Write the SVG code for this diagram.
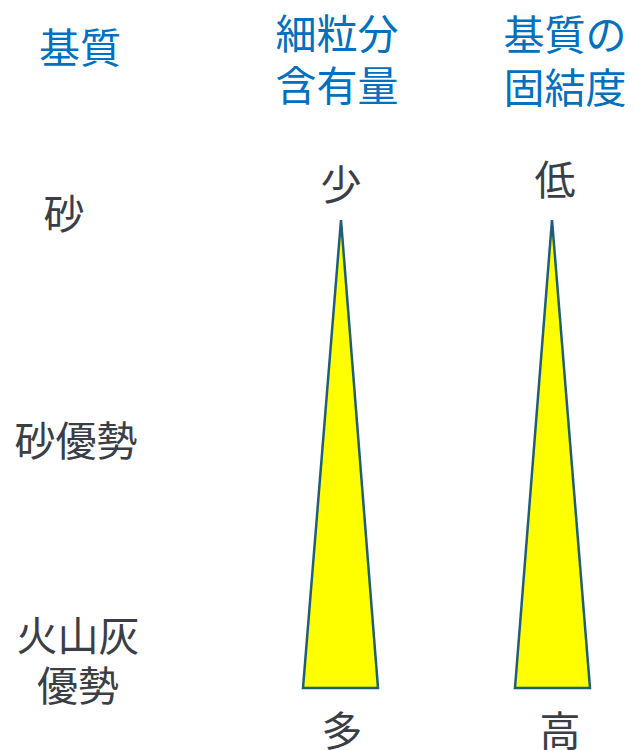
<svg xmlns="http://www.w3.org/2000/svg" width="635" height="750" viewBox="0 0 635 750">
<style>
text{font-family:"Noto Sans CJK JP","Noto Sans",sans-serif;font-size:41px;text-anchor:middle}
.h{fill:#0070c0}
.t{fill:#3a3e46}
.tri{fill:#ffff00;stroke:#1f5e7a;stroke-width:2.5;stroke-linejoin:miter}
</style>
<rect width="635" height="750" fill="#fff"/>
<g id="headers">
<text class="h" x="80" y="63">基質</text>
<text class="h" x="337" y="49">細粒分</text>
<text class="h" x="337" y="101">含有量</text>
<text class="h" x="565" y="50">基質の</text>
<text class="h" x="565" y="103">固結度</text>
</g>
<g id="rows">
<text class="t" x="64" y="229">砂</text>
<text class="t" x="76" y="456">砂優勢</text>
<text class="t" x="78" y="651">火山灰</text>
<text class="t" x="78" y="701">優勢</text>
</g>
<g id="fines">
<polygon class="tri" points="341,220 378,688 303,688"/>
<text class="t" x="341" y="200">少</text>
<text class="t" x="342" y="746">多</text>
</g>
<g id="consolidation">
<polygon class="tri" points="552,220 590,688 515,688"/>
<text class="t" x="555" y="195">低</text>
<text class="t" x="560" y="746">高</text>
</g>
<g id="connectors"></g>
</svg>
